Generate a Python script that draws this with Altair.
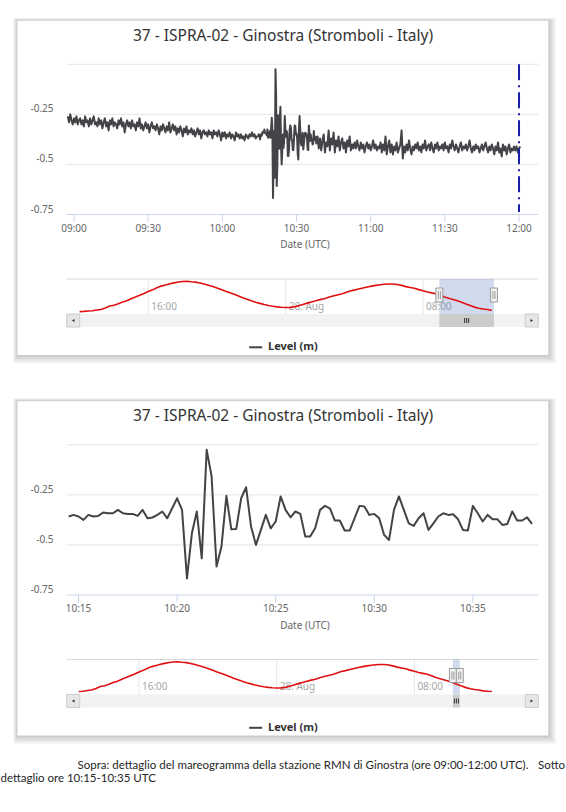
import altair as alt
import pandas as pd

FONT = "Noto Sans"
TITLE = "37 - ISPRA-02 - Ginostra (Stromboli - Italy)"
SERIES = "Level (m)"
AXIS_TITLE = "Date (UTC)"
CAPTION_1 = "Sopra: dettaglio del mareogramma della stazione RMN di Ginostra (ore 09:00-12:00 UTC)."
CAPTION_1_END = "Sotto"
CAPTION_2 = "dettaglio ore 10:15-10:35 UTC"

# Level (m), 28 Aug, 30-second samples from 08:57:30 to 10:14:00 UTC
level_early = [
    -0.26, -0.29, -0.25, -0.28, -0.30, -0.27, -0.29, -0.26, -0.30, -0.28,
    -0.27, -0.30, -0.28, -0.31, -0.26, -0.29, -0.28, -0.31, -0.27, -0.30,
    -0.28, -0.26, -0.30, -0.29, -0.31, -0.27, -0.30, -0.28, -0.32, -0.29,
    -0.27, -0.31, -0.29, -0.33, -0.28, -0.30, -0.27, -0.31, -0.29, -0.30,
    -0.32, -0.28, -0.30, -0.27, -0.31, -0.29, -0.34, -0.30, -0.28, -0.31,
    -0.29, -0.32, -0.28, -0.31, -0.30, -0.33, -0.29, -0.31, -0.27, -0.32,
    -0.30, -0.33, -0.31, -0.29, -0.32, -0.30, -0.34, -0.31, -0.29, -0.32,
    -0.31, -0.33, -0.30, -0.32, -0.35, -0.31, -0.33, -0.30, -0.32, -0.34,
    -0.31, -0.33, -0.29, -0.34, -0.32, -0.30, -0.33, -0.31, -0.35, -0.32,
    -0.34, -0.31, -0.33, -0.36, -0.32, -0.34, -0.31, -0.35, -0.33, -0.34,
    -0.32, -0.35, -0.33, -0.36, -0.34, -0.32, -0.35, -0.33, -0.37, -0.34,
    -0.33, -0.35, -0.34, -0.36, -0.33, -0.35, -0.34, -0.37, -0.33, -0.35,
    -0.34, -0.36, -0.33, -0.35, -0.38, -0.34, -0.36, -0.34, -0.37, -0.35,
    -0.36, -0.34, -0.37, -0.35, -0.36, -0.38, -0.34, -0.36, -0.35, -0.37,
    -0.35, -0.37, -0.36, -0.38, -0.35, -0.36, -0.37, -0.35, -0.36, -0.34,
    -0.36, -0.35, -0.37, -0.36,
]

# Level (m), 15-second samples from 10:14:30 to 10:38:00 UTC
level_detail = [
    -0.358, -0.350, -0.358, -0.375, -0.350, -0.358, -0.355, -0.338, -0.342, -0.342,
    -0.325, -0.342, -0.345, -0.345, -0.355, -0.325, -0.367, -0.363, -0.350, -0.333,
    -0.367, -0.317, -0.267, -0.325, -0.667, -0.442, -0.333, -0.567, -0.025, -0.158,
    -0.608, -0.508, -0.255, -0.422, -0.420, -0.267, -0.212, -0.408, -0.500, -0.425,
    -0.350, -0.417, -0.383, -0.258, -0.325, -0.362, -0.333, -0.345, -0.458, -0.458,
    -0.417, -0.325, -0.305, -0.317, -0.378, -0.378, -0.428, -0.428, -0.367, -0.305,
    -0.308, -0.350, -0.345, -0.367, -0.450, -0.475, -0.325, -0.258, -0.325, -0.392,
    -0.405, -0.367, -0.342, -0.425, -0.392, -0.358, -0.342, -0.350, -0.347, -0.372,
    -0.425, -0.428, -0.305, -0.342, -0.383, -0.350, -0.372, -0.372, -0.400, -0.395,
    -0.333, -0.378, -0.378, -0.362, -0.395,
]

# Level (m), 30-second samples from 10:38:30 to 12:00:30 UTC
level_late = [
    -0.36, -0.42, -0.37, -0.43, -0.38, -0.35, -0.44, -0.39, -0.41, -0.33,
    -0.43, -0.37, -0.40, -0.34, -0.44, -0.38, -0.41, -0.36, -0.43, -0.39,
    -0.37, -0.42, -0.39, -0.44, -0.38, -0.41, -0.36, -0.43, -0.40, -0.42,
    -0.39, -0.42, -0.38, -0.41, -0.43, -0.39, -0.42, -0.40, -0.44, -0.41,
    -0.39, -0.42, -0.40, -0.43, -0.41, -0.38, -0.42, -0.40, -0.43, -0.41,
    -0.42, -0.39, -0.44, -0.40, -0.43, -0.36, -0.45, -0.41, -0.38, -0.44,
    -0.40, -0.45, -0.41, -0.43, -0.39, -0.44, -0.42, -0.40, -0.33, -0.47,
    -0.41, -0.44, -0.40, -0.43, -0.38, -0.42, -0.45, -0.41, -0.43, -0.40,
    -0.42, -0.39, -0.43, -0.41, -0.44, -0.40, -0.42, -0.38, -0.43, -0.41,
    -0.40, -0.43, -0.39, -0.42, -0.44, -0.40, -0.42, -0.39, -0.43, -0.41,
    -0.42, -0.40, -0.43, -0.39, -0.42, -0.41, -0.44, -0.40, -0.42, -0.38,
    -0.41, -0.43, -0.40, -0.42, -0.44, -0.41, -0.39, -0.43, -0.41, -0.42,
    -0.40, -0.43, -0.41, -0.38, -0.42, -0.44, -0.41, -0.43, -0.40, -0.42,
    -0.41, -0.44, -0.42, -0.40, -0.43, -0.41, -0.39, -0.42, -0.44, -0.41,
    -0.43, -0.40, -0.42, -0.45, -0.41, -0.43, -0.39, -0.44, -0.42, -0.46,
    -0.40, -0.43, -0.41, -0.45, -0.42, -0.40, -0.44, -0.42, -0.43, -0.41,
    -0.43, -0.41, -0.44, -0.42, -0.41,
]

# Level (m) over the last day, 15-minute samples from 27 Aug 12:00 to 28 Aug 12:30 UTC
tide_level = [
    -0.425, -0.423, -0.420, -0.418, -0.412, -0.408, -0.395, -0.378,
    -0.372, -0.360, -0.345, -0.335, -0.318, -0.305, -0.290, -0.275,
    -0.258, -0.245, -0.228, -0.214, -0.204, -0.195, -0.187, -0.180,
    -0.176, -0.174, -0.178, -0.181, -0.188, -0.196, -0.207, -0.218,
    -0.229, -0.242, -0.256, -0.268, -0.282, -0.296, -0.310, -0.322,
    -0.336, -0.347, -0.357, -0.366, -0.374, -0.381, -0.386, -0.389,
    -0.391, -0.390, -0.386, -0.377, -0.366, -0.355, -0.345, -0.336,
    -0.326, -0.318, -0.307, -0.296, -0.287, -0.279, -0.266, -0.255,
    -0.247, -0.238, -0.230, -0.222, -0.214, -0.208, -0.203, -0.199,
    -0.196, -0.197, -0.201, -0.208, -0.218, -0.225, -0.232, -0.243,
    -0.253, -0.262, -0.270, -0.277, -0.290, -0.305, -0.315, -0.324,
    -0.335, -0.348, -0.362, -0.375, -0.388, -0.398, -0.404, -0.408,
    -0.415, -0.418, -0.420,
]

grid_values = [0, -0.25, -0.5]
ylabel_values = [-0.75, -0.5, -0.25]
ylabel_text = ["-0.75", "-0.5", "-0.25"]

# minutes after 00:00 UTC
ticks_full = [540, 570, 600, 630, 660, 690, 720]
ticks_full_text = ["09:00", "09:30", "10:00", "10:30", "11:00", "11:30", "12:00"]
ticks_zoom = [615, 620, 625, 630, 635]
ticks_zoom_text = ["10:15", "10:20", "10:25", "10:30", "10:35"]
marker_at = [720]

# hours after 27 Aug 00:00 UTC
nav_ticks = [16, 24, 32]
nav_ticks_text = ["16:00", "28. Aug", "08:00"]

# ---- tables ----
t_early = [537.5 + 0.5 * i for i in range(len(level_early))]
t_detail = [614.5 + 0.25 * i for i in range(len(level_detail))]
t_late = [638.5 + 0.5 * i for i in range(len(level_late))]
full_df = pd.DataFrame({"t": t_early + t_detail + t_late,
                        "v": level_early + level_detail + level_late})
zoom_df = pd.DataFrame({"t": t_detail, "v": level_detail})
tide_df = pd.DataFrame({"t": [12 + 0.25 * i for i in range(len(tide_level))],
                        "v": tide_level})

one = pd.DataFrame({"k": [0]})

# ---- layout ----
W, H = 566, 812
PL, PR = 66.7, 538.3
CARD_L, CARD_R = 17.5, 548.3
LINE = "#434348"
GRID = "#e6e6e6"
AXIS = "#ccd6eb"
LABEL = "#666666"


def lin(domain, rng):
    return alt.Scale(domain=domain, range=rng, nice=False, zero=False)


def panel(dy, series, x_dom, ticks, ticks_text, nav_dom, nav_from, marker=None):
    sx = lin(x_dom, [PL, PR])
    sy = lin([-0.75, 0], [214.5 + dy, 64.3 + dy])
    snx = lin(nav_dom, [PL, PR])
    sny = lin([-0.445, -0.155], [314 + dy, 279 + dy])
    X = lambda f: alt.X(f, scale=sx, axis=None)
    Y = lambda f: alt.Y(f, scale=sy, axis=None)
    NX = lambda f: alt.X(f, scale=snx, axis=None)
    NY = lambda f: alt.Y(f, scale=sny, axis=None)

    top, bottom = 20.7 + dy, 355 + dy
    layers = []
    # card shadow and card
    for k in range(1, 7):
        layers.append(alt.Chart(one).mark_rect(color="#000000", opacity=0.035).encode(
            x=alt.value(CARD_L - 0.7 * k), x2=alt.value(CARD_R + 1.3 * k),
            y=alt.value(top - 0.5 * k), y2=alt.value(bottom + 1.4 * k)))
    layers.append(alt.Chart(one).mark_rect(color="#ffffff").encode(
        x=alt.value(CARD_L), x2=alt.value(CARD_R), y=alt.value(top), y2=alt.value(bottom)))

    # title
    layers.append(alt.Chart(pd.DataFrame({"s": [TITLE]})).mark_text(
        font=FONT, fontSize=15.5, color="#333333", align="center", baseline="middle"
    ).encode(text="s:N", x=alt.value(283), y=alt.value(35.5 + dy)))

    # grid, axis line, ticks, labels
    layers.append(alt.Chart(pd.DataFrame({"v": grid_values})).mark_rule(
        color=GRID, strokeWidth=1).encode(y=Y("v:Q"), x=alt.value(PL), x2=alt.value(PR)))
    layers.append(alt.Chart(one).mark_rule(color=AXIS, strokeWidth=1).encode(
        y=alt.value(214.5 + dy), x=alt.value(PL), x2=alt.value(PR)))
    layers.append(alt.Chart(pd.DataFrame({"v": ylabel_values, "s": ylabel_text})).mark_text(
        font=FONT, fontSize=10, color=LABEL, align="right", baseline="middle", dy=-5
    ).encode(y=Y("v:Q"), x=alt.value(53.5), text="s:N"))
    tick_df = pd.DataFrame({"t": ticks, "s": ticks_text})
    layers.append(alt.Chart(tick_df).mark_rule(color=AXIS, strokeWidth=1).encode(
        x=X("t:Q"), y=alt.value(214.5 + dy), y2=alt.value(222 + dy)))
    layers.append(alt.Chart(tick_df).mark_text(
        font=FONT, fontSize=10, color=LABEL, align="center", baseline="middle"
    ).encode(x=X("t:Q"), y=alt.value(228.5 + dy), text="s:N"))
    layers.append(alt.Chart(pd.DataFrame({"s": [AXIS_TITLE]})).mark_text(
        font=FONT, fontSize=10, color=LABEL, align="center", baseline="middle"
    ).encode(text="s:N", x=alt.value(305), y=alt.value(245 + dy)))

    # series
    layers.append(alt.Chart(series).mark_line(
        color=LINE, strokeWidth=2, strokeJoin="round").encode(x=X("t:Q"), y=Y("v:Q")))

    if marker is not None:
        layers.append(alt.Chart(pd.DataFrame({"t": marker})).mark_rule(
            color="#1c1ca6", strokeWidth=2, strokeDash=[16, 5, 2, 5]
        ).encode(x=X("t:Q"), y=alt.value(64.3 + dy), y2=alt.value(212 + dy)))

    # navigator
    sel_s = 24 + x_dom[0] / 60.0
    sel_e = 24 + x_dom[1] / 60.0
    sel_df = pd.DataFrame({"s": [sel_s], "e": [sel_e], "m": [(sel_s + sel_e) / 2]})
    nav_df = tide_df[(tide_df.t >= nav_from) & (tide_df.t <= nav_from + 24)]

    layers.append(alt.Chart(pd.DataFrame({"t": nav_ticks})).mark_rule(
        color=GRID, strokeWidth=1).encode(x=NX("t:Q"), y=alt.value(279 + dy), y2=alt.value(314 + dy)))
    layers.append(alt.Chart(one).mark_rule(color="#d9d9d9", strokeWidth=1).encode(
        y=alt.value(279 + dy), x=alt.value(PL), x2=alt.value(PR)))
    layers.append(alt.Chart(pd.DataFrame({"t": nav_ticks, "s": nav_ticks_text})).mark_text(
        font=FONT, fontSize=10, color="#a6a6a6", align="left", baseline="middle", dx=3
    ).encode(x=NX("t:Q"), y=alt.value(306.7 + dy), text="s:N"))
    layers.append(alt.Chart(sel_df).mark_rect(color="#6685c2", opacity=0.3).encode(
        x=NX("s:Q"), x2="e:Q", y=alt.value(279 + dy), y2=alt.value(314 + dy)))
    layers.append(alt.Chart(nav_df).mark_line(color="#e01010", strokeWidth=1.6).encode(
        x=NX("t:Q"), y=NY("v:Q")))

    # scrollbar
    layers.append(alt.Chart(one).mark_rect(color="#f2f2f2").encode(
        x=alt.value(PL), x2=alt.value(PR), y=alt.value(314 + dy), y2=alt.value(327 + dy)))
    for bx0, bx1, shape in [(PL, PL + 13, "triangle-left"), (PR - 13, PR, "triangle-right")]:
        layers.append(alt.Chart(one).mark_rect(fill="#e6e6e6", stroke="#cccccc", strokeWidth=1).encode(
            x=alt.value(bx0), x2=alt.value(bx1), y=alt.value(314 + dy), y2=alt.value(327 + dy)))
        layers.append(alt.Chart(one).mark_point(shape=shape, filled=True, size=10, color="#333333",
                                                opacity=1).encode(
            x=alt.value((bx0 + bx1) / 2), y=alt.value(320.5 + dy)))
    layers.append(alt.Chart(sel_df).mark_rect(color="#cccccc").encode(
        x=NX("s:Q"), x2="e:Q", y=alt.value(314 + dy), y2=alt.value(327 + dy)))
    for off in (-2, 0, 2):
        layers.append(alt.Chart(sel_df).mark_rule(color="#333333", strokeWidth=1, xOffset=off).encode(
            x=NX("m:Q"), y=alt.value(318 + dy), y2=alt.value(323 + dy)))

    # navigator handles
    edge_df = pd.DataFrame({"h": [sel_s, sel_e]})
    layers.append(alt.Chart(edge_df).mark_rect(
        fill="#f2f2f2", stroke="#999999", strokeWidth=1, xOffset=-3.5, x2Offset=3.5
    ).encode(x=NX("h:Q"), x2="h:Q", y=alt.value(288 + dy), y2=alt.value(302 + dy)))
    for off in (-1, 1):
        layers.append(alt.Chart(edge_df).mark_rule(color="#999999", strokeWidth=1, xOffset=off).encode(
            x=NX("h:Q"), y=alt.value(291 + dy), y2=alt.value(299 + dy)))

    # legend
    layers.append(alt.Chart(one).mark_rule(color=LINE, strokeWidth=2).encode(
        x=alt.value(249.2), x2=alt.value(262.2), y=alt.value(347.3 + dy)))
    layers.append(alt.Chart(pd.DataFrame({"s": [SERIES]})).mark_text(
        font=FONT, fontSize=11, fontWeight="bold", color="#333333", align="left", baseline="middle"
    ).encode(text="s:N", x=alt.value(268), y=alt.value(347.3 + dy)))
    return layers


layers = []
layers += panel(0, full_df, [537.05, 727.8], ticks_full, ticks_full_text,
                [11.248, 38.714], 12.0, marker=marker_at)
layers += panel(380.5, zoom_df, [614.4, 638.32], ticks_zoom, ticks_zoom_text,
                [11.799, 39.2], 12.5)

# caption
CAP_FONT = "Lato"
CAP_SIZE = 11.5
layers.append(alt.Chart(pd.DataFrame({"s": [CAPTION_1]})).mark_text(
    font=CAP_FONT, fontSize=CAP_SIZE, color="#262626", align="left", baseline="middle"
).encode(text="s:N", x=alt.value(77.5), y=alt.value(766)))
layers.append(alt.Chart(pd.DataFrame({"s": [CAPTION_1_END]})).mark_text(
    font=CAP_FONT, fontSize=CAP_SIZE, color="#262626", align="right", baseline="middle"
).encode(text="s:N", x=alt.value(565), y=alt.value(766)))
layers.append(alt.Chart(pd.DataFrame({"s": [CAPTION_2]})).mark_text(
    font=CAP_FONT, fontSize=CAP_SIZE, color="#262626", align="left", baseline="middle"
).encode(text="s:N", x=alt.value(0.5), y=alt.value(779)))

chart = alt.layer(*layers).resolve_scale(x="independent", y="independent").properties(
    width=W, height=H, autosize="none", padding=0, background="#ffffff"
).configure_view(stroke=None)

chart.save("out.html", embed_options={"renderer": "svg", "actions": False})
